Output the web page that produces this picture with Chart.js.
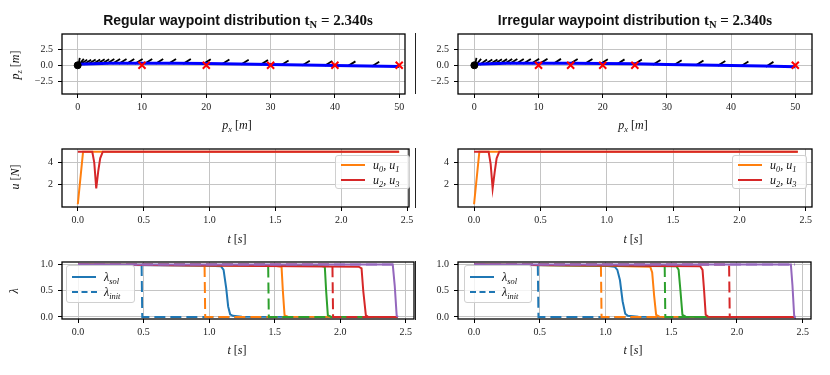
<!DOCTYPE html>
<html>
<head>
<meta charset="utf-8">
<script src="https://cdn.jsdelivr.net/npm/chart.js@4"></script>
<style>
  body { margin: 0; background: #fff; width: 830px; height: 375px; position: relative; overflow: hidden; font-family: "Liberation Serif", serif; color: #111; }
  .c { position: absolute; transform: translate(-50%, -50%); white-space: nowrap; }
  .title { font-family: "Liberation Sans", sans-serif; font-weight: bold; font-size: 14px; }
  .title .m { font-family: "Liberation Serif", serif; font-size: 15px; }
  .lab { font-size: 12px; font-style: italic; }
  .rot { transform: translate(-50%, -50%) rotate(-90deg); }
  .sb { font-size: 0.7em; position: relative; top: 0.3em; }
  .up { font-style: normal; }
  .leg { position: absolute; background: rgba(255,255,255,0.8); border: 1px solid #d0d0d0; border-radius: 3px; font-size: 12px; }
  .leg .h { position: absolute; left: 5px; width: 24px; height: 0; }
  .leg .tx { position: absolute; left: 37px; transform: translateY(-50%); font-style: italic; white-space: nowrap; }
  .vl { position: absolute; left: 415px; width: 1px; background: #222; }
</style>
</head>
<body>
<script>
// ---- trajectory (top row) ----
const pathX = [0, 5, 10, 15, 20, 25, 30, 35, 40, 45, 50];
const regPathZ = [0.15, 0.3, 0.32, 0.3, 0.27, 0.2, 0.12, 0.05, -0.02, -0.1, -0.18];
const irrPathZ = [0.15, 0.3, 0.33, 0.32, 0.28, 0.22, 0.14, 0.06, -0.03, -0.12, -0.22];
const regWaypointsX = [10, 20, 30, 40, 50];
const irrWaypointsX = [10, 15, 20, 25, 50];
const waypointsZ = [0, 0, 0, 0, 0];
const regDroneX = [0.2, 0.5, 0.9, 1.5, 2.2, 2.9, 3.6, 4.3, 5.1, 6.0, 7.0, 8.2, 9.5, 11.0, 12.7, 14.7, 17.0, 20.1, 23.0, 26.0, 29.0, 32.2, 35.5, 39.0, 42.6, 46.3];
const regDroneTilt = [80, 50, 35, 32, 32, 32, 32, 32, 32, 32, 32, 32, 32, 32, 32, 32, 32, 32, 32, 32, 32, 32, 32, 32, 32, 32];
const irrDroneX = [0.2, 0.6, 1.4, 2.2, 3.0, 3.7, 4.5, 5.3, 6.1, 7.1, 8.2, 9.5, 10.8, 12.9, 15.5, 17.8, 20.2, 22.8, 25.5, 28.4, 31.7, 35.1, 38.5, 42.1, 46.0];
const irrDroneTilt = [80, 50, 35, 32, 32, 32, 32, 32, 32, 32, 32, 32, 32, 32, 32, 32, 32, 32, 32, 32, 32, 32, 32, 32, 32];
const posXTicks = [0, 10, 20, 30, 40, 50];
const posZTicks = [-2.5, 0, 2.5];

// ---- inputs (middle row) ----
const u01Time = [0, 0.04, 2.44];
const regU01 = [0.2, 5, 5];
const irrU01 = [0.2, 5, 5];
const u23Time = [0, 0.11, 0.125, 0.14, 0.155, 0.17, 0.19, 2.44];
const regU23 = [5, 5, 4.0, 1.65, 3.2, 4.4, 5, 5];
const irrU23 = [5, 5, 3.9, 1.65, 3.1, 4.4, 5, 5];
const timeTicks = [0, 0.5, 1.0, 1.5, 2.0, 2.5];
const uTicks = [2, 4];

// ---- progress variables lambda (bottom row) ----
const regSolT = [
  [0, 1.0, 1.09, 1.11, 1.13, 1.145, 1.16, 1.18, 1.25, 2.44],
  [0, 1.5, 1.552, 1.562, 1.575, 1.6, 2.44],
  [0, 1.85, 1.882, 1.892, 1.905, 1.93, 2.44],
  [0, 2.14, 2.162, 2.175, 2.195, 2.21, 2.44],
  [0, 2.40, 2.415, 2.43, 2.44]
];
const regSolV = [
  [1, 0.98, 0.97, 0.9, 0.55, 0.2, 0.05, 0.02, 0.005, 0],
  [1, 0.98, 0.96, 0.5, 0.03, 0.005, 0],
  [1, 0.98, 0.96, 0.5, 0.03, 0.005, 0],
  [1, 0.96, 0.93, 0.5, 0.03, 0.005, 0],
  [1, 1, 0.6, 0.02, 0]
];
const irrSolT = [
  [0, 1.0, 1.07, 1.09, 1.11, 1.13, 1.15, 1.17, 1.25, 2.44],
  [0, 1.0, 1.34, 1.355, 1.37, 1.385, 1.41, 2.44],
  [0, 1.54, 1.556, 1.57, 1.585, 1.61, 2.44],
  [0, 1.72, 1.738, 1.75, 1.762, 1.78, 2.44],
  [0, 2.41, 2.422, 2.435, 2.44]
];
const irrSolV = [
  [1, 0.98, 0.96, 0.9, 0.7, 0.3, 0.06, 0.02, 0.005, 0],
  [1, 0.98, 0.96, 0.85, 0.4, 0.04, 0.005, 0],
  [1, 0.97, 0.9, 0.5, 0.04, 0.005, 0],
  [1, 0.97, 0.9, 0.5, 0.04, 0.005, 0],
  [1, 1, 0.6, 0.02, 0]
];
const initT = [
  [0, 0.485, 0.49, 2.44],
  [0, 0.965, 0.97, 2.44],
  [0, 1.45, 1.455, 2.44],
  [0, 1.94, 1.945, 2.44],
  [0, 2.44]
];
const initV = [
  [1, 1, 0, 0],
  [1, 1, 0, 0],
  [1, 1, 0, 0],
  [1, 1, 0, 0],
  [1, 1]
];
const lambdaTicks = [0, 0.5, 1.0];

const tab = ['#1f77b4', '#ff7f0e', '#2ca02c', '#d62728', '#9467bd'];

function pts(xs, ys) {
  return xs.map((x, i) => ({x: x, y: ys[i]}));
}

function line(xs, ys, color, width, dash) {
  return {data: pts(xs, ys), showLine: true, borderColor: color, borderWidth: width,
          pointRadius: 0, borderDash: dash || [], fill: false, borderCapStyle: 'butt'};
}

function interp(xs, ys, x) {
  for (let i = 1; i < xs.length; i++) {
    if (x <= xs[i]) {
      const f = (x - xs[i - 1]) / (xs[i] - xs[i - 1]);
      return ys[i - 1] + f * (ys[i] - ys[i - 1]);
    }
  }
  return ys[ys.length - 1];
}

// short tilted strokes showing the drone attitude along the path
function droneMarks(pz, dx, tilt) {
  const out = [];
  dx.forEach((x, i) => {
    const z = interp(pathX, pz, x) + 0.3;
    const a = tilt[i] * Math.PI / 180;
    const hx = 4.5 * Math.cos(a) / 6.43, hz = 4.5 * Math.sin(a) / 6.45;
    out.push({x: x - hx, y: z - hz}, {x: x + hx, y: z + hz}, {x: x, y: null});
  });
  return out;
}

const fmt1 = v => v.toFixed(1).replace('-', '\u2212');
const fmt0 = v => String(v);

const frameBox = {
  id: 'frameBox',
  afterDraw(chart) {
    const a = chart.chartArea, ctx = chart.ctx;
    ctx.save();
    ctx.strokeStyle = '#000';
    ctx.lineWidth = 1.3;
    ctx.strokeRect(a.left, a.top, a.right - a.left, a.bottom - a.top);
    ctx.restore();
  }
};

function axisOpts(range, ticks, fmt, isX) {
  return {
    type: 'linear', min: range[0], max: range[1],
    afterBuildTicks: s => { s.ticks = ticks.map(v => ({value: v})); },
    afterFit: s => {
      if (isX) { s.height = 25; s.paddingLeft = 0; s.paddingRight = 0; }
      else { s.width = 50; s.paddingTop = 0; s.paddingBottom = 0; }
    },
    grid: {color: '#c4c4c4', lineWidth: 1, tickColor: '#000', tickLength: 4, tickWidth: 1},
    border: {display: false},
    ticks: {autoSkip: false, maxRotation: 0, padding: isX ? 3 : 5, color: '#222',
            font: {family: 'Liberation Serif', size: 10}, callback: v => fmt(v)}
  };
}

// frame = [left, right, top, bottom] of the plotting box in page pixels
function axes(frame, xRange, yRange, xTicks, yTicks, xFmt, yFmt, datasets) {
  const w = frame[1] - frame[0] + 62, h = frame[3] - frame[2] + 33;
  const cv = document.createElement('canvas');
  cv.width = w; cv.height = h;
  cv.style.cssText = 'position:absolute;left:' + (frame[0] - 50) + 'px;top:' + (frame[2] - 8) + 'px;width:' + w + 'px;height:' + h + 'px';
  document.body.appendChild(cv);
  datasets.forEach((d, i) => { d.order = datasets.length - i; });
  new Chart(cv, {
    type: 'scatter',
    data: {datasets: datasets},
    options: {
      responsive: false, animation: false, spanGaps: false,
      layout: {padding: {top: 8, right: 12, left: 0, bottom: 0}},
      plugins: {legend: {display: false}, tooltip: {enabled: false}},
      scales: {
        x: axisOpts(xRange, xTicks, xFmt, true),
        y: axisOpts(yRange, yTicks, yFmt, false)
      }
    },
    plugins: [frameBox]
  });
}

function trajSets(pz, wx, dx, tilt) {
  return [
    Object.assign(line([], [], '#000', 1.8), {data: droneMarks(pz, dx, tilt)}),
    line(pathX, pz, '#0000ff', 3),
    {data: pts(wx, waypointsZ), showLine: false, pointStyle: 'crossRot', pointRadius: 5,
     borderColor: '#ff0000', borderWidth: 2},
    {data: [{x: 0, y: 0}], showLine: false, pointRadius: 3.5, backgroundColor: '#000', borderColor: '#000'}
  ];
}

function uSets(u01, u23) {
  return [line(u01Time, u01, tab[1], 2), line(u23Time, u23, tab[3], 2)];
}

function lambdaSets(solT, solV) {
  const out = [];
  for (let i = 0; i < 5; i++) {
    out.push(line(solT[i], solV[i], tab[i], 2));
    out.push(line(initT[i], initV[i], tab[i], 2, [11, 5]));
  }
  return out;
}

axes([62, 405, 34, 94], [-2.44, 50.9], [-4.45, 4.85], posXTicks, posZTicks, fmt0, fmt1,
     trajSets(regPathZ, regWaypointsX, regDroneX, regDroneTilt));
axes([458, 812, 34, 94], [-2.55, 52.6], [-4.45, 4.85], posXTicks, posZTicks, fmt0, fmt1,
     trajSets(irrPathZ, irrWaypointsX, irrDroneX, irrDroneTilt));
axes([62, 409, 149, 207], [-0.12, 2.515], [-0.05, 5.25], timeTicks, uTicks, fmt1, fmt0,
     uSets(regU01, regU23));
axes([458, 812, 149, 207], [-0.121, 2.547], [-0.05, 5.25], timeTicks, uTicks, fmt1, fmt0,
     uSets(irrU01, irrU23));
axes([62, 414, 262, 319], [-0.122, 2.562], [-0.04, 1.05], timeTicks, lambdaTicks, fmt1, fmt1,
     lambdaSets(regSolT, regSolV));
axes([458, 811, 262, 319], [-0.122, 2.563], [-0.04, 1.05], timeTicks, lambdaTicks, fmt1, fmt1,
     lambdaSets(irrSolT, irrSolV));
</script>

<div class="c title" style="left:238px;top:20px">Regular waypoint distribution <span class="m">t<span class="sb">N</span> = 2.340s</span></div>
<div class="c title" style="left:635px;top:20px">Irregular waypoint distribution <span class="m">t<span class="sb">N</span> = 2.340s</span></div>

<div class="c lab" style="left:237px;top:125px">p<span class="sb">x</span> <span class="up">[</span>m<span class="up">]</span></div>
<div class="c lab" style="left:633px;top:125px">p<span class="sb">x</span> <span class="up">[</span>m<span class="up">]</span></div>
<div class="c lab" style="left:237px;top:239px">t <span class="up">[</span>s<span class="up">]</span></div>
<div class="c lab" style="left:633px;top:239px">t <span class="up">[</span>s<span class="up">]</span></div>
<div class="c lab" style="left:237px;top:350px">t <span class="up">[</span>s<span class="up">]</span></div>
<div class="c lab" style="left:633px;top:350px">t <span class="up">[</span>s<span class="up">]</span></div>

<div class="c lab rot" style="left:15px;top:65px">p<span class="sb">z</span> <span class="up">[</span>m<span class="up">]</span></div>
<div class="c lab rot" style="left:15px;top:177px">u <span class="up">[</span>N<span class="up">]</span></div>
<div class="c lab rot" style="left:14px;top:291px">λ</div>

<div class="vl" style="top:33px;height:61px"></div>
<div class="vl" style="top:148px;height:60px"></div>
<div class="vl" style="top:261px;height:59px"></div>

<div class="leg" style="left:335px;top:155px;width:73px;height:32px">
  <div class="h" style="top:8px;border-top:2px solid #ff7f0e"></div><div class="tx" style="top:9px">u<span class="sb">0</span>, u<span class="sb">1</span></div>
  <div class="h" style="top:23px;border-top:2px solid #d62728"></div><div class="tx" style="top:24px">u<span class="sb">2</span>, u<span class="sb">3</span></div>
</div>
<div class="leg" style="left:732px;top:155px;width:73px;height:32px">
  <div class="h" style="top:8px;border-top:2px solid #ff7f0e"></div><div class="tx" style="top:9px">u<span class="sb">0</span>, u<span class="sb">1</span></div>
  <div class="h" style="top:23px;border-top:2px solid #d62728"></div><div class="tx" style="top:24px">u<span class="sb">2</span>, u<span class="sb">3</span></div>
</div>

<div class="leg" style="left:66px;top:265px;width:67px;height:36px">
  <div class="h" style="top:10px;border-top:2px solid #1f77b4"></div><div class="tx" style="top:11px">λ<span class="sb">sol</span></div>
  <div class="h" style="top:25px;border-top:2px dashed #1f77b4;width:25px"></div><div class="tx" style="top:26px">λ<span class="sb">init</span></div>
</div>
<div class="leg" style="left:464px;top:265px;width:66px;height:36px">
  <div class="h" style="top:10px;border-top:2px solid #1f77b4"></div><div class="tx" style="top:11px">λ<span class="sb">sol</span></div>
  <div class="h" style="top:25px;border-top:2px dashed #1f77b4;width:25px"></div><div class="tx" style="top:26px">λ<span class="sb">init</span></div>
</div>
</body>
</html>
